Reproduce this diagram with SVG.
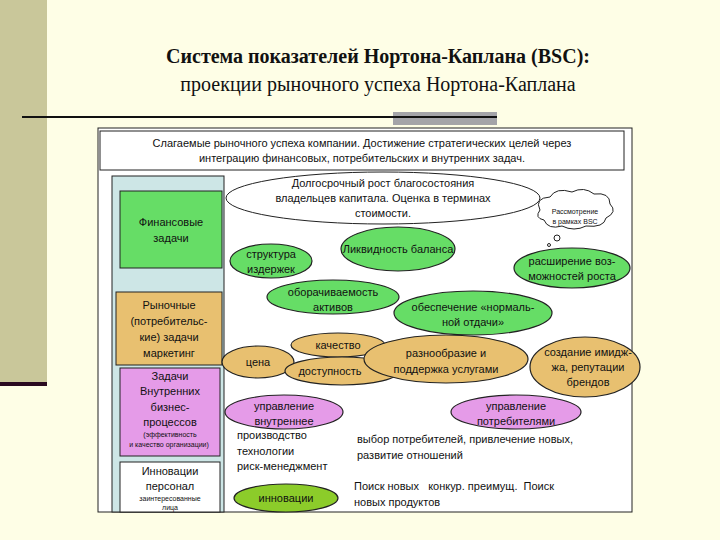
<svg xmlns="http://www.w3.org/2000/svg" width="720" height="540" viewBox="0 0 720 540">
<style>
text{font-family:"Liberation Sans",Arial,sans-serif;font-size:11px;fill:#111;text-anchor:middle}
.t{font-family:"Liberation Serif","Times New Roman",serif;font-size:20px}
.s{font-size:8px}
.xs{font-size:7px}
.g{fill:#66dd66;stroke:#222;stroke-width:1.2}
.o{fill:#e8c070;stroke:#222;stroke-width:1.2}
.p{fill:#e59be8;stroke:#222;stroke-width:1.2}
.l{text-anchor:start}
</style>
<rect width="720" height="540" fill="#fefee6"/>
<rect x="0" y="0" width="47" height="382" fill="#c9c79a"/>
<rect x="0" y="382" width="47" height="4" fill="#2a0a20"/>
<rect x="393" y="112" width="104" height="13" fill="#a4a4a8"/>
<line x1="22" y1="117" x2="497" y2="117" stroke="#111" stroke-width="2"/>
<text class="t" x="378" y="63" font-weight="bold">Система показателей Нортона-Каплана (BSC):</text>
<text class="t" x="378" y="91">проекции рыночного успеха Нортона-Каплана</text>

<rect x="98" y="128" width="534" height="384" fill="#fff" stroke="#222"/>
<g id="header"><rect x="100" y="131" width="524" height="39" fill="#fff" stroke="#222"/>
<text x="362" y="147">Слагаемые рыночного успеха компании. Достижение стратегических целей через</text>
<text x="362" y="162">интеграцию финансовых, потребительских и внутренних задач.</text></g>
<rect x="112" y="176" width="112" height="336" fill="#cde6e6" stroke="#222"/>
<g id="fin"><rect x="120" y="191" width="102" height="77" fill="#66dd66" stroke="#222"/><text x="171" y="226">Финансовые</text><text x="171" y="242">задачи</text></g>
<g id="market"><rect x="116" y="292" width="106" height="73" fill="#e8c070" stroke="#222"/><text x="169" y="309">Рыночные</text><text x="169" y="325">(потребительс-</text><text x="169" y="341">кие) задачи</text><text x="169" y="357">маркетинг</text></g>
<g id="internal"><rect x="120" y="368" width="100" height="88" fill="#e59be8" stroke="#222"/><text x="170" y="380">Задачи</text><text x="170" y="395">Внутренних</text><text x="170" y="411">бизнес-</text><text x="170" y="426">процессов</text><text class="xs" x="170" y="437">(эффективность</text><text class="xs" x="169" y="447">и качество организации)</text></g>
<g id="innov"><rect x="120" y="462" width="100" height="50" fill="#fff" stroke="#222"/><text x="170" y="475">Инновации</text><text x="170" y="490">персонал</text><text class="xs" x="170" y="501">заинтересованные</text><text class="xs" x="170" y="510">лица</text></g>

<g id="wealth"><ellipse cx="383" cy="198" rx="157" ry="26" fill="#fff" stroke="#222"/><text x="383" y="187">Долгосрочный рост благосостояния</text><text x="383" y="202">владельцев капитала. Оценка в терминах</text><text x="383" y="217">стоимости.</text></g>
<g id="cloud"><path d="M540 210 q-6 -12 10 -13 q6 -10 22 -5 q12 -6 22 2 q16 -2 16 10 q8 8 -4 14 q-2 10 -20 8 q-12 6 -24 0 q-14 4 -18 -6 q-10 -2 -4 -10z" fill="#fff" stroke="#222"/><text class="xs" x="575" y="214">Рассмотрение</text><text class="xs" x="575" y="224">в рамках BSC</text><circle cx="557" cy="238" r="3" fill="#fff" stroke="#222"/><circle cx="549" cy="245" r="1.5" fill="#fff" stroke="#222"/></g>
<g id="e1"><ellipse cx="271" cy="261" rx="41" ry="17" class="g"/><text x="271" y="258">структура</text><text x="271" y="273">издержек</text></g>
<g id="e2"><ellipse cx="398" cy="249" rx="57" ry="22" class="g"/><text x="398" y="253">Ликвидность баланса</text></g>
<g id="e3"><ellipse cx="572" cy="268" rx="58" ry="20" class="g"/><text x="572" y="265">расширение воз-</text><text x="572" y="280">можностей роста</text></g>
<g id="e4"><ellipse cx="333" cy="297" rx="66" ry="17" class="g"/><text x="333" y="296">оборачиваемость</text><text x="333" y="311">активов</text></g>
<g id="e5"><ellipse cx="473" cy="313" rx="79" ry="22" class="g"/><text x="473" y="311">обеспечение «нормаль-</text><text x="473" y="326">ной отдачи»</text></g>
<g id="o1"><ellipse cx="338" cy="345" rx="47" ry="12" class="o"/><text x="338" y="349">качество</text></g>
<g id="o2"><ellipse cx="258" cy="362" rx="36" ry="16" class="o"/><text x="258" y="366">цена</text></g>
<g id="o3"><ellipse cx="342" cy="371" rx="57" ry="14" class="o"/><text x="330" y="375">доступность</text></g>
<g id="o4"><ellipse cx="446" cy="359" rx="82" ry="24" class="o"/><text x="446" y="357">разнообразие и</text><text x="446" y="373">поддержка услугами</text></g>
<g id="o5"><ellipse cx="585" cy="367" rx="55" ry="30" class="o"/><text x="588" y="356">создание имидж-</text><text x="588" y="371">жа,  репутации</text><text x="588" y="386">брендов</text></g>
<g id="p1"><ellipse cx="284" cy="412" rx="59" ry="17" class="p"/><text x="284" y="410">управление</text><text x="284" y="425">внутреннее</text></g>
<g id="p2"><ellipse cx="516" cy="412" rx="65" ry="17" class="p"/><text x="516" y="410">управление</text><text x="516" y="425">потребителями</text></g>
<g id="g6"><ellipse cx="286" cy="498" rx="52" ry="14" fill="#8ccc2a" stroke="#222" stroke-width="1.2"/><text x="286" y="502">инновации</text></g>
<g id="notes">
<text class="l" x="237" y="439">производство</text><text class="l" x="237" y="455">технологии</text><text class="l" x="237" y="470">риск-менеджмент</text>
<text class="l" x="357" y="443">выбор потребителей, привлечение новых,</text><text class="l" x="357" y="459">развитие отношений</text>
<text class="l" x="354" y="490" xml:space="preserve">Поиск новых   конкур. преимущ.  Поиск</text><text class="l" x="354" y="506">новых продуктов</text></g>
<g id="connectors"></g>
</svg>
